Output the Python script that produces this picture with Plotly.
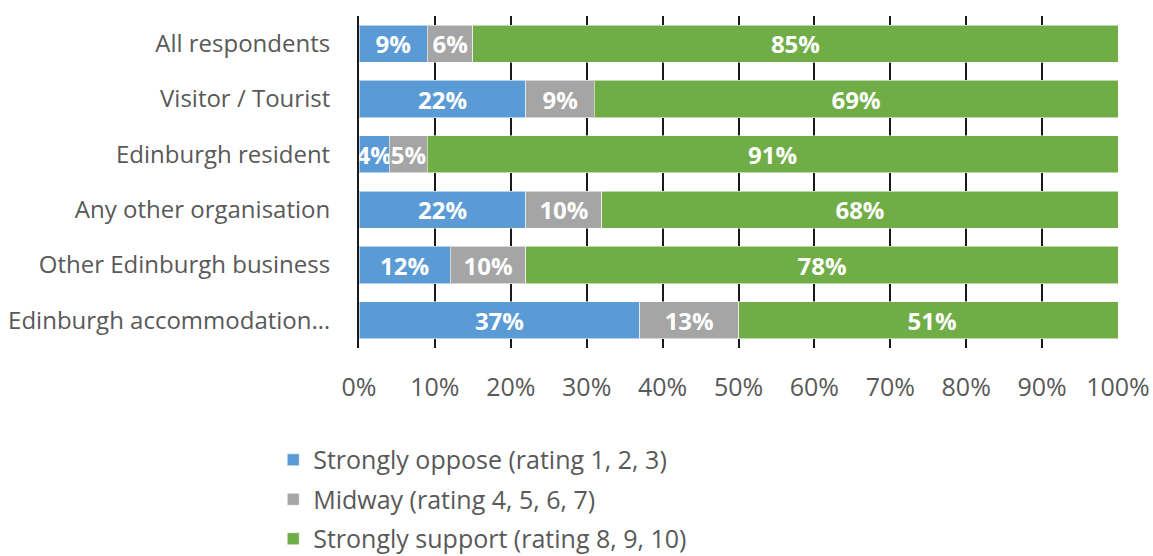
import plotly.graph_objects as go

# Respondent groups, top to bottom
categories = [
    "All respondents",
    "Visitor / Tourist",
    "Edinburgh resident",
    "Any other organisation",
    "Other Edinburgh business",
    "Edinburgh accommodation…",
]

# Share of respondents (%) per rating band
oppose = [9, 22, 4, 22, 12, 37]
midway = [6, 9, 5, 10, 10, 13]
support = [85, 69, 91, 68, 78, 51]

series_names = [
    "Strongly oppose (rating 1, 2, 3)",
    "Midway (rating 4, 5, 6, 7)",
    "Strongly support (rating 8, 9, 10)",
]
series_values = [oppose, midway, support]
series_colors = ["#5B9BD5", "#A5A5A5", "#70AD47"]

tick_values = list(range(0, 101, 10))
tick_labels = [f"{v}%" for v in tick_values]

FONT = "Open Sans"
TEXT_GREY = "#595959"

fig = go.Figure()
for i, (name, vals, col) in enumerate(zip(series_names, series_values, series_colors)):
    fig.add_trace(go.Bar(
        y=categories,
        x=vals,
        name=name,
        orientation="h",
        legendgroup=f"g{i}",
        marker=dict(color=col, line=dict(color="rgba(255,255,255,0.55)", width=1)),
        text=[f"{v}%" for v in vals],
        textposition="inside",
        insidetextanchor="middle",
        textangle=0,
        textfont=dict(family=FONT, size=24, color="white", weight="bold"),
        cliponaxis=True,
        hoverinfo="skip",
    ))

fig.update_layout(
    barmode="stack",
    bargap=0.33,
    width=1153,
    height=556,
    margin=dict(l=359, r=35, t=16, b=208, autoexpand=False),
    paper_bgcolor="white",
    plot_bgcolor="white",
    font=dict(family=FONT, size=24, color=TEXT_GREY),
    uniformtext=dict(minsize=24, mode="show"),
    showlegend=True,
    legend=dict(
        orientation="v",
        traceorder="grouped",
        x=-0.113,
        xanchor="left",
        y=-0.268,
        yanchor="top",
        tracegroupgap=4,
        font=dict(family=FONT, size=25, color=TEXT_GREY),
        bgcolor="rgba(0,0,0,0)",
    ),
    xaxis=dict(
        range=[0, 100],
        tickmode="array",
        tickvals=tick_values,
        ticktext=tick_labels,
        showgrid=True,
        gridcolor="#1a1a1a",
        gridwidth=2,
        zeroline=False,
        showline=False,
        ticks="",
        ticklabelstandoff=22,
        tickfont=dict(family=FONT, size=25, color=TEXT_GREY),
        automargin=False,
        fixedrange=True,
    ),
    yaxis=dict(
        categoryorder="array",
        categoryarray=categories,
        autorange="reversed",
        showgrid=False,
        showline=True,
        linecolor="#1a1a1a",
        linewidth=2,
        ticks="",
        ticklabelstandoff=22,
        tickfont=dict(family=FONT, size=24, color=TEXT_GREY),
        automargin=False,
        fixedrange=True,
    ),
)

fig.write_html("out.html")
